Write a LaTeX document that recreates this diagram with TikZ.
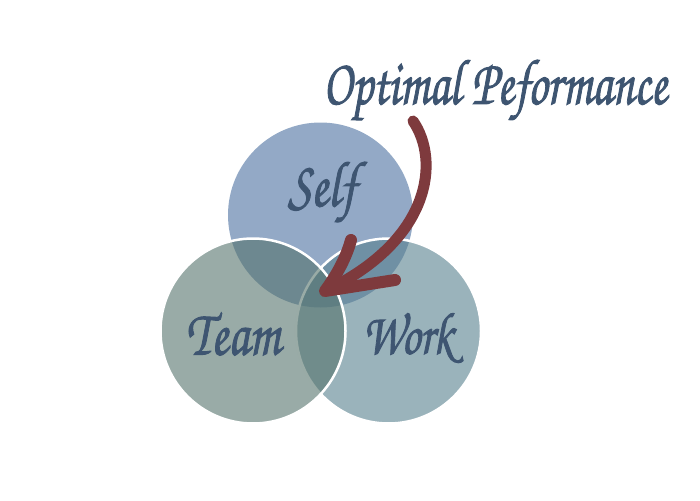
\documentclass[tikz,border=0pt]{standalone}
\usepackage{fontspec}
\newfontfamily\brushfont[AutoFakeBold=1.6]{texgyrechorus-mediumitalic.otf}
\newcommand{\tallify}[2]{\scalebox{1}[#1]{#2}}
\definecolor{selfc}{HTML}{93A9C6}
\definecolor{workc}{RGB}{87,128,142}
\definecolor{teamc}{RGB}{85,115,108}
\definecolor{inkc}{HTML}{3E5571}
\definecolor{arrowc}{HTML}{7E3A3D}
\begin{document}
\begin{tikzpicture}[x=1pt,y=-1pt,
  venn/.style={circle,minimum size=185pt,inner sep=0pt},
  lbl/.style={text=inkc,font=\brushfont\bfseries\fontsize{50}{50}\selectfont},
  ttl/.style={text=inkc,font=\brushfont\bfseries\fontsize{48}{48}\selectfont},
  shaft/.style={draw=arrowc,line width=11pt,line cap=round},
  barb/.style={draw=arrowc,line width=12pt,line cap=round,line join=round}]
\useasboundingbox (0,0) rectangle (700,500);
\node[venn,fill=selfc] (self) at (320.5,215) {};
\node[venn,fill=workc,fill opacity=0.6] (work) at (388.5,331) {};
\draw[white,line width=2.5pt] (388.5,331) circle (92.5pt);
\node[venn,fill=teamc,fill opacity=0.6] (team) at (253,331) {};
\draw[white,line width=2.5pt] (253,331) circle (92.5pt);
\node[lbl] (selft) at (322,192) {\tallify{1.3}{Self}};
\node[lbl] (teamt) at (233,334) {\tallify{1.3}{Team}};
\node[lbl,font=\brushfont\bfseries\fontsize{46}{46}\selectfont] (workt) at (408,338) {\tallify{1.3}{Work}};
\node[ttl] (title) at (495,90) {\tallify{1.35}{Optimal Peformance}};
\coordinate (a0) at (413,121);
\coordinate (tip) at (325,291);
\coordinate (b1) at (351,240);
\coordinate (b2) at (395,280);
\draw[shaft] (a0) .. controls (440,160) and (432,240) .. (tip);
\draw[barb] (b1) .. controls (345,262) and (333,280) .. (tip) -- (b2);
\end{tikzpicture}
\end{document}
